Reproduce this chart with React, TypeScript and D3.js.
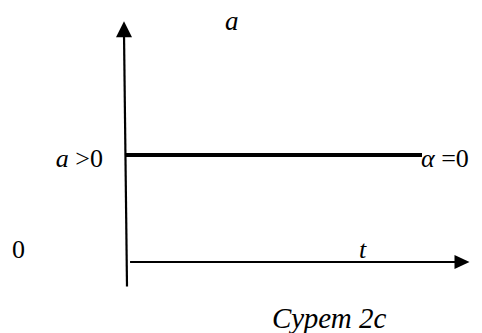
import React from "react";
import * as d3 from "d3";

// Time samples and the constant acceleration over them
const timeSamples = [0, 10];
const accelValues = [1, 1];

// Axis extents in data units
const tAxisRange = [0.17, 11.6];
const aAxisRange = [-0.23, 2.25];

// Text labels
const axisLabelA = "a";
const axisLabelT = "t";
const originLabel = "0";
const levelLabel = "a >0";
const angleLabel = "\u03b1 =0";
const caption = "Сурет 2с";

const W = 482;
const H = 333;

const serif = { fontFamily: "Liberation Serif, DejaVu Serif, serif" };

export default function App() {
  const x = d3.scaleLinear().domain([0, 10]).range([125, 422]);
  const y = d3.scaleLinear().domain([0, 1]).range([262, 155]);

  const linePath = d3
    .line<number>()
    .x((_, i) => x(timeSamples[i]))
    .y((d) => y(d))(accelValues) as string;

  const tx0 = x(tAxisRange[0]);
  const tx1 = x(tAxisRange[1]);
  const ty = y(0);
  const ayTop = y(aAxisRange[1]);
  const ayBot = y(aAxisRange[0]);
  const axTop = 124;
  const axBot = 127;

  return (
    <svg
      width={W}
      height={H}
      style={{ position: "absolute", left: 0, top: 0, background: "#fff" }}
    >
      {/* vertical axis with arrowhead */}
      <line x1={axTop} y1={ayTop + 12} x2={axBot} y2={ayBot} stroke="#000" strokeWidth={2.2} />
      <path
        d={`M${axTop},${ayTop} L${axTop - 8},${ayTop + 16} L${axTop + 8},${ayTop + 16} Z`}
        fill="#000"
      />
      {/* horizontal axis with arrowhead */}
      <line x1={tx0} y1={ty} x2={tx1 - 12} y2={ty} stroke="#000" strokeWidth={2.2} />
      <path
        d={`M${tx1},${ty} L${tx1 - 15},${ty - 7} L${tx1 - 15},${ty + 7} Z`}
        fill="#000"
      />
      {/* constant acceleration line */}
      <path d={linePath} stroke="#000" strokeWidth={4} fill="none" />

      <text x={225} y={30} fontSize={27} fontStyle="italic" style={serif}>{axisLabelA}</text>
      <text x={103} y={167} fontSize={26} textAnchor="end" style={serif}>
        <tspan fontStyle="italic">{levelLabel.slice(0, 1)}</tspan>
        {levelLabel.slice(1)}
      </text>
      <text x={421} y={167} fontSize={26} style={serif}>
        <tspan fontStyle="italic">{angleLabel.slice(0, 1)}</tspan>
        {angleLabel.slice(1)}
      </text>
      <text x={12} y={258} fontSize={26} style={serif}>{originLabel}</text>
      <text x={359} y={258} fontSize={26} fontStyle="italic" style={serif}>{axisLabelT}</text>
      <text x={272} y={328} fontSize={29} fontStyle="italic" style={serif}>{caption}</text>
    </svg>
  );
}
